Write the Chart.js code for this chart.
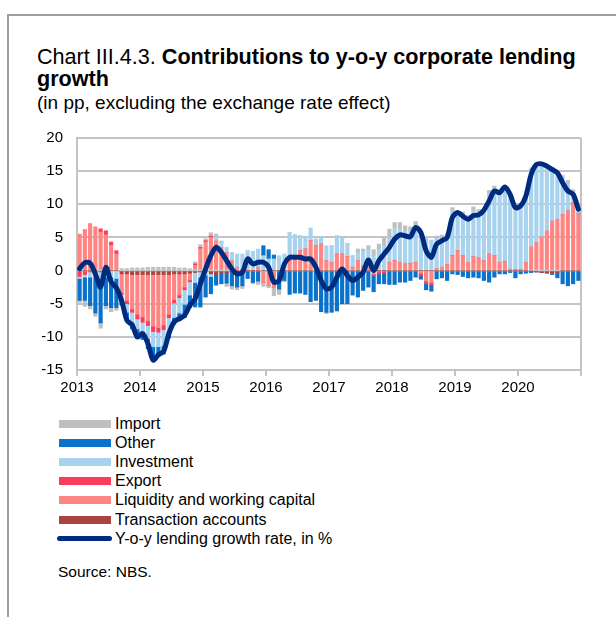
<!DOCTYPE html>
<html>
<head>
<meta charset="utf-8">
<script src="https://cdn.jsdelivr.net/npm/chart.js@4.4.1/dist/chart.umd.min.js"></script>
<style>
  html, body { margin: 0; padding: 0; background: #fff; }
  body {
    width: 616px; height: 617px; position: relative; overflow: hidden;
    font-family: "Liberation Sans", Arial, sans-serif; color: #000;
  }
  .frame {
    position: absolute; left: 7px; top: 14px; width: 640px; height: 640px;
    border-top: 2px solid #9d9d9d; border-left: 2px solid #9d9d9d;
  }
  .title { position: absolute; left: 37px; top: 46px; font-size: 21.6px; line-height: 22px; white-space: nowrap; }
  .subtitle { position: absolute; left: 37px; top: 93px; font-size: 19px; line-height: 20px; white-space: nowrap; }
  .chart-box { position: absolute; left: 20px; top: 115px; width: 570px; height: 285px; }
  #legend { position: absolute; left: 56px; top: 414px; font-size: 16px; }
  .legend-row { display: flex; align-items: center; height: 19.2px; white-space: nowrap; }
  .legend-swatch { width: 52px; height: 8px; margin-left: 3px; margin-right: 4px; }
  .legend-line { width: 55px; height: 5px; border-radius: 3px; margin-left: 1px; margin-right: 3px; }
  .source { position: absolute; left: 58px; top: 563px; font-size: 15.5px; line-height: 18px; }
</style>
</head>
<body>
<div class="frame"></div>
<div class="title">Chart III.4.3. <b>Contributions to y-o-y corporate lending<br>growth</b></div>
<div class="subtitle">(in pp, excluding the exchange rate effect)</div>
<div class="chart-box"><canvas id="chart-lending"></canvas></div>
<div id="legend"></div>
<div class="source">Source: NBS.</div>

<script>
// Monthly contributions, Jan 2013 - Dec 2020 (pp), one row per year
const years = ['2013', '2014', '2015', '2016', '2017', '2018', '2019', '2020'];

const transactionAccounts = [
    0, 0, 0, 0, -0.2, 0, 0, 0, -0.5, -0.5, -0.6, -0.6,
    -0.6, -0.6, -0.6, -0.6, -0.6, -0.6, -0.5, -0.5, -0.5, -0.4, -0.3, -0.2,
    -0.2, -0.5, -0.6, -0.4, -0.3, -0.2, 0, 0, 0, 0, 0, 0,
    0, 0, 0, 0, 0, 0, 0, 0, 0, 0, 0, 0,
    0, 0, 0, 0, 0, 0, 0, 0, 0, 0, 0, 0,
    0, 0, 0, 0, 0, 0, 0, 0, 0, 0, 0, 0,
    0, 0, 0, 0, 0, 0, 0, 0, 0, 0, 0, 0,
    0, 0, -0.1, -0.2, -0.3, -0.3, -0.4, -0.3, 0, 0, 0, 0,
];

const liquidity = [
    5.5, 6.2, 7.1, 6.6, 5.8, 5.4, 3.8, 2.5, -2.8, -4.0, -5.2, -6.0,
    -6.4, -7.0, -7.8, -8.0, -7.6, -6.0, -3.9, -3.2, -2.0, -1.0, 0.8, 3.3,
    4.3, 5.0, 4.5, 3.5, 2.75, 1.5, 0.5, 0.1, 0, 0, 0.5, -1.8,
    -2.2, -2.5, 0, 0, 1.5, 2.0, 3.0, 3.25, 4.5, 3.75, 4.0, 1.5,
    1.25, 2.5, 2.5, 2.1, 0.5, 1.5, 0.75, 0.4, -0.5, 0, 0, 1.25,
    1.5, 1.25, 1.0, 1.1, 1.25, -0.4, -1.6, -1.8, 0.25, 0.5, 0.9, 2.25,
    3.0, 2.25, 1.25, 2.1, 1.9, 1.5, 2.5, 2.25, 1.25, 1.4, 0.2, 0.1,
    0.1, 1.25, 3.6, 4.25, 5.1, 6.0, 7.5, 7.75, 8.4, 9.0, 10.25, 8.6,
];

const exportCredit = [
    -0.9, -0.6, -0.2, -0.3, 0.5, 0.6, 0.5, 0.5, -0.3, -0.5, -0.5, -0.7,
    -0.8, -0.7, -0.8, -0.7, -0.7, -0.5, -0.5, -0.4, -0.4, -0.3, 0.2, 0.2,
    0.2, 0.2, 0, 0, 0, 0, 0, 0, 0, 0, 0, 0,
    0, 0, 0, 0, 0, 0, 0, 0, 0, 0, 0, 0,
    0, 0, 0, 0, 0, 0, 0, 0, -0.3, -0.5, -0.4, 0,
    0, 0, 0, 0, 0, -0.4, -0.4, -0.4, 0, 0, 0, 0,
    0, 0, 0, 0, 0, 0, 0, 0, 0, 0, 0, 0,
    0, 0, 0, 0, 0, 0, 0, 0, 0, 0, 0, 0,
];

const investment = [
    -0.3, -0.4, -0.8, -0.6, -1.0, -1.0, -1.0, -1.2, -0.8, -1.3, -1.5, -1.5,
    -1.4, -2.0, -2.3, -2.2, -2.5, -2.3, -2.2, -2.3, -2.2, -2.0, -1.5, -0.8,
    -0.5, -0.4, 0.5, 0.75, 0.75, 1.25, 2.0, 2.4, 3.0, 2.9, 2.75, 2.25,
    1.75, 1.75, 2.25, 2.5, 4.25, 3.4, 2.25, 1.85, 1.9, 1.0, 1.1, 2.25,
    2.5, 2.75, 2.4, 2.0, 1.75, 1.25, 2.1, 2.7, 2.25, 3.25, 3.75, 3.75,
    5.0, 5.0, 5.0, 4.9, 5.35, 5.2, 5.0, 4.6, 4.6, 4.4, 4.1, 6.75,
    5.75, 6.4, 6.75, 6.9, 6.9, 7.25, 9.1, 10.0, 10.5, 10.9, 11.3, 9.5,
    9.75, 9.9, 11.9, 11.85, 10.8, 9.6, 7.6, 6.75, 5.9, 4.1, 1.35, 0.7,
];

const other = [
    -3.3, -3.5, -4.3, -5.5, -6.7, -4.3, -4.6, -4.4, -0.8, -1.2, -1.0, -1.5,
    -1.2, -1.5, -2.0, -1.5, -1.2, -0.8, -1.0, -1.2, -2.0, -1.9, -3.7, -4.5,
    -3.3, -2.6, -1.6, -1.6, -1.6, -2.1, -2.5, -2.3, -1.2, -1.8, -1.6, 1.5,
    1.4, 0.6, -2.8, -1.5, -3.6, -3.4, -3.4, -3.6, -4.7, -4.5, -6.2, -6.3,
    -6.3, -6.1, -5.0, -5.0, -3.7, -4.0, -3.0, -2.5, -2.4, -1.5, -1.6, -2.1,
    -2.1, -1.75, -1.75, -1.5, -1.0, -0.5, -0.9, -0.9, -1.25, -1.1, -1.5, -0.5,
    -0.6, -0.9, -1.1, -1.0, -1.1, -1.5, -1.75, -1.0, -0.5, -0.5, -0.3, -1.1,
    -0.5, -0.4, -0.2, 0, 0, -0.1, -0.2, -0.8, -2.0, -2.3, -2.0, -1.5,
];

const imports = [
    -0.3, -0.9, -0.5, -0.5, -0.8, -0.5, -0.6, -0.4, 0.3, 0.3, 0.4, 0.4,
    0.4, 0.5, 0.5, 0.5, 0.5, 0.5, 0.5, 0.4, 0.4, 0.3, 0.3, 0.4,
    0.3, 0.5, 0.5, 0.2, -0.5, -0.5, -0.4, -0.4, 0, -0.2, -0.5, -0.6,
    -0.4, -1.3, -0.8, -0.2, 0, 0, 0, 0, 0, 0, 0, -0.2,
    0, 0, 0, 0, 0, 0.5, 0.4, 0.65, 0.9, 0.75, 1.25, 1.25,
    0.75, 1.0, 0.75, 0.6, 0.8, 0.3, 0, 0, 0.35, 0.45, 0.5, 0.5,
    0, 0.2, 0.3, 0.6, 0.4, 0, 0.5, 0.5, 0, 0.3, 0, 0,
    0, 0, 0, 0, 0, 0, 0.4, 0.5, 0, 0.5, 0.6, 0,
];

const lendingGrowth = [
    0.3, 1.2, 1.1, -0.5, -2.5, 0.5, -1.7, -2.6, -4.5, -7.5, -8.2, -10.0,
    -9.5, -11.0, -13.5, -12.7, -12.2, -9.5, -7.75, -7.25, -6.75, -5.25, -4.25, -2.0,
    0.25, 2.25, 3.5, 2.75, 1.5, 0.25, -0.5, -0.25, 1.75, 1.0, 1.25, 1.25,
    0.5, -1.75, -1.5, 1.0, 2.0, 2.0, 2.0, 1.75, 1.75, 0.5, -1.5, -2.75,
    -2.5, -1.0, 0.25, -0.75, -1.5, -1.0, -0.25, 1.6, 0, 1.5, 2.5, 3.5,
    4.75, 5.4, 5.25, 5.1, 6.5, 5.75, 3.0, 2.0, 4.0, 4.5, 5.0, 8.0,
    8.75, 8.2, 7.75, 8.3, 8.4, 9.1, 10.5, 12.0, 11.75, 12.6, 11.5, 9.5,
    9.75, 11.25, 14.5, 16.0, 16.1, 15.75, 15.25, 14.75, 13.25, 12.0, 11.5, 9.25,
];

const yTicks = { min: -15, max: 20, step: 5 };

const GRID = '#c4c4c4';
const TEXT = '#000000';

Chart.defaults.font.family = '"Liberation Sans", Arial, sans-serif';
Chart.defaults.font.size = 15;
Chart.defaults.color = TEXT;

// month i sits in the middle of its slot on a linear month axis
const toPoints = arr => arr.map((v, i) => ({ x: i + 0.5, y: v }));

function barSet(label, values, color) {
    return {
        type: 'bar',
        label,
        data: toPoints(values),
        backgroundColor: color,
        borderWidth: 0,
        barThickness: 3.5,
        stack: 'parts',
    };
}

const chart = new Chart(document.getElementById('chart-lending'), {
    type: 'bar',
    data: {
        datasets: [
            {
                type: 'line',
                label: 'Y-o-y lending growth rate, in %',
                data: toPoints(lendingGrowth),
                borderColor: '#002c7f',
                backgroundColor: '#002c7f',
                borderWidth: 5,
                borderCapStyle: 'round',
                borderJoinStyle: 'round',
                pointRadius: 0,
                tension: 0.3,
                stack: 'rate',
            },
            barSet('Transaction accounts', transactionAccounts, '#a8433f'),
            barSet('Liquidity and working capital', liquidity, '#ff8582'),
            barSet('Export', exportCredit, '#fb3d5e'),
            barSet('Investment', investment, '#a7d3ef'),
            barSet('Other', other, '#0a72cb'),
            barSet('Import', imports, '#bfbfbf'),
        ],
    },
    options: {
        responsive: true,
        maintainAspectRatio: false,
        animation: false,
        layout: { padding: { top: 9, right: 9, bottom: 0, left: 0 } },
        plugins: { legend: { display: false }, tooltip: { enabled: false } },
        scales: {
            x: {
                type: 'linear',
                min: 0,
                max: lendingGrowth.length,
                offset: false,
                stacked: true,
                afterFit: scale => { scale.height = 30; },
                grid: {
                    offset: false,
                    color: ctx => (ctx.tick && ctx.tick.value === lendingGrowth.length ? GRID : 'rgba(0,0,0,0)'),
                    tickColor: GRID,
                    lineWidth: 2,
                    tickLength: 6,
                },
                border: { display: false },
                ticks: {
                    stepSize: 12,
                    autoSkip: false,
                    maxRotation: 0,
                    padding: 3,
                    font: { size: 15 },
                    callback: value => years[value / 12] || '',
                },
            },
            y: {
                min: yTicks.min,
                max: yTicks.max,
                stacked: true,
                afterFit: scale => { scale.width = 57; },
                grid: { color: GRID, lineWidth: 2, drawTicks: false },
                border: { display: true, color: GRID, width: 2 },
                ticks: { stepSize: yTicks.step, padding: 14, font: { size: 15 } },
            },
        },
    },
});

// Legend: bar series listed top-down as they stack from the top, line last
function buildLegend(c) {
    const box = document.getElementById('legend');
    const bars = c.data.datasets.filter(d => d.type === 'bar').reverse();
    const lines = c.data.datasets.filter(d => d.type === 'line');
    box.innerHTML = bars.map(d => `
        <div class="legend-row"><span class="legend-swatch" style="background:${d.backgroundColor}"></span>${d.label}</div>
    `).join('') + lines.map(d => `
        <div class="legend-row"><span class="legend-line" style="background:${d.borderColor}"></span>${d.label}</div>
    `).join('');
}
buildLegend(chart);
</script>
</body>
</html>
